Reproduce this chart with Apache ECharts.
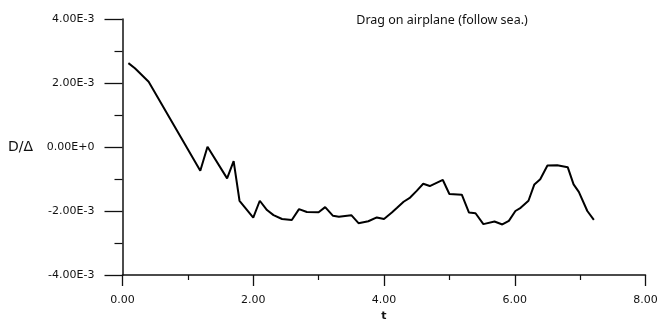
<!DOCTYPE html>
<html>
<head>
<meta charset="utf-8">
<script src="https://cdn.jsdelivr.net/npm/echarts@6/dist/echarts.min.js"></script>
<style>
  html, body { margin: 0; padding: 0; background: #fff; }
  #chart { width: 658px; height: 320px; }
</style>
</head>
<body>
<div id="chart"></div>
<script>
// Time samples t and drag D/Δ (in units of 1E-3) on the airplane, following sea.
const timeValues = [
  0.09, 0.19, 0.40, 1.19, 1.30, 1.60, 1.70, 1.79, 2.00, 2.10,
  2.21, 2.31, 2.44, 2.59, 2.70, 2.82, 3.00, 3.10, 3.22, 3.31,
  3.50, 3.61, 3.76, 3.89, 4.00, 4.12, 4.20, 4.30, 4.40, 4.50,
  4.60, 4.70, 4.90, 5.00, 5.19, 5.30, 5.40, 5.52, 5.69, 5.81,
  5.91, 6.01, 6.09, 6.21, 6.30, 6.39, 6.50, 6.65, 6.81, 6.90,
  6.98, 7.11, 7.21
];
const dragMilli = [
  2.62, 2.46, 2.04, -0.74, 0.01, -0.98, -0.44, -1.68, -2.21, -1.68,
  -1.97, -2.13, -2.25, -2.28, -1.94, -2.03, -2.04, -1.88, -2.15, -2.18,
  -2.13, -2.38, -2.32, -2.20, -2.25, -2.05, -1.90, -1.71, -1.58, -1.37,
  -1.15, -1.22, -1.03, -1.47, -1.49, -2.05, -2.07, -2.41, -2.33, -2.42,
  -2.31, -2.00, -1.90, -1.68, -1.17, -1.01, -0.58, -0.57, -0.63, -1.17,
  -1.40, -2.00, -2.28
];
const yTickLabels = { '-4': '-4.00E-3', '-2': '-2.00E-3', '0': '0.00E+0', '2': '2.00E-3', '4': '4.00E-3' };
const xTickLabels = { '0': '0.00', '2': '2.00', '4': '4.00', '6': '6.00', '8': '8.00' };

const chart = echarts.init(document.getElementById('chart'), null, { renderer: 'canvas' });
const font = 'DejaVu Sans';
const ink = '#111';

chart.setOption({
  backgroundColor: '#fff',
  animation: false,
  title: {
    text: 'Drag on airplane (follow sea.)',
    left: 437,
    top: 9,
    textAlign: 'center',
    textStyle: { fontFamily: 'Noto Sans', fontSize: 12.5, fontWeight: 'normal', color: ink }
  },
  grid: { left: 122.5, right: 12.5, top: 19, bottom: 45, containLabel: false, outerBoundsMode: 'none' },
  xAxis: {
    type: 'value',
    min: 0, max: 8, interval: 2,
    name: 't',
    nameLocation: 'middle',
    nameGap: 35,
    nameTextStyle: { fontFamily: font, fontSize: 11, fontWeight: 'bold', color: ink },
    axisLine: { onZero: false, lineStyle: { color: ink, width: 1.5 } },
    axisTick: { length: 11, lineStyle: { color: ink, width: 1.3 } },
    minorTick: { show: true, splitNumber: 2, length: 5, lineStyle: { color: ink, width: 1.2 } },
    splitLine: { show: false },
    axisLabel: {
      margin: 20,
      fontFamily: font, fontSize: 11, color: ink,
      formatter: v => xTickLabels[String(Math.round(v))] || ''
    }
  },
  yAxis: {
    type: 'value',
    min: -4, max: 4, interval: 2,
    name: 'D/Δ',
    nameLocation: 'middle',
    nameRotate: 0,
    nameGap: 102,
    nameTextStyle: { fontFamily: font, fontSize: 14, color: ink, align: 'center', verticalAlign: 'middle' },
    axisLine: { onZero: false, lineStyle: { color: ink, width: 1.5 } },
    axisTick: { length: 18, lineStyle: { color: ink, width: 1.3 } },
    minorTick: { show: true, splitNumber: 2, length: 8, lineStyle: { color: ink, width: 1.2 } },
    splitLine: { show: false },
    axisLabel: {
      margin: 28,
      fontFamily: font, fontSize: 11, color: ink,
      formatter: v => yTickLabels[String(Math.round(v))] || ''
    }
  },
  series: [{
    type: 'line',
    data: timeValues.map((t, i) => [t, dragMilli[i]]),
    showSymbol: false,
    smooth: false,
    lineStyle: { color: '#000', width: 2 }
  }]
});
</script>
</body>
</html>
